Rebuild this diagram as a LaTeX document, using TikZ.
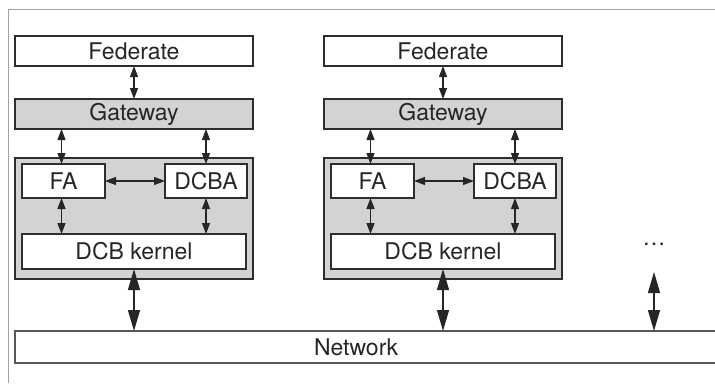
\documentclass[tikz,border=0pt]{standalone}
\usepackage{fontspec}
\setmainfont{TeX Gyre Heros}
\usetikzlibrary{arrows.meta,calc}
\definecolor{edge}{HTML}{2E2E2E}
\definecolor{panel}{HTML}{D2D3D5}
\definecolor{framegray}{HTML}{A3A3A3}
\tikzset{
  labelfont/.style={font=\fontsize{23}{27}\selectfont, text=black!85},
  box/.style={draw=edge, line width=1.4pt, fill=white, anchor=north west,
    inner sep=0pt, outer sep=0pt, labelfont},
  graybox/.style={box, fill=panel},
  link/.style={draw=black!85, line width=1.1pt,
    {Triangle[length=11pt,width=8pt]}-{Triangle[length=11pt,width=8pt]}},
  biglink/.style={draw=black!85, line width=1.3pt,
    {Triangle[length=21pt,width=12pt]}-{Triangle[length=21pt,width=12pt]}},
}
\begin{document}
\begin{tikzpicture}[x=1pt,y=-1pt]
  \useasboundingbox (0,0) rectangle (715,383);
  % outer frame (top and left edges only)
  \draw[framegray, line width=1pt] (8.5,383) -- (8.5,9.5) -- (715,9.5);

  % network bus, open towards the right
  \node[anchor=north west, minimum width=700pt, minimum height=32pt,
        inner sep=0pt, outer sep=0pt] (net) at (15,331) {};
  \draw[edge!80, line width=1.6pt] (net.north east) -- (net.north west)
        -- (net.south west) -- (net.south east);
  \node[labelfont] (netlabel) at (356,347) {Network};

  \foreach \i/\dx in {1/0,2/309}{
    \node[box, minimum width=238pt, minimum height=30pt] (fed\i) at (15+\dx,36) {Federate};
    \node[graybox, minimum width=238pt, minimum height=30pt] (gw\i) at (15+\dx,99) {Gateway};
    \node[graybox, minimum width=238pt, minimum height=121pt] (dcb\i) at (15+\dx,158) {};
    \node[box, minimum width=83pt, minimum height=34pt] (fa\i) at (22+\dx,164) {FA};
    \node[box, minimum width=82pt, minimum height=34pt] (dcba\i) at (165+\dx,164) {DCBA};
    \node[box, minimum width=224pt, minimum height=35pt] (ker\i) at (22+\dx,234) {DCB kernel};

    \draw[link] (fed\i.south) -- (fed\i.south |- gw\i.north);
    \draw[link] ([xshift=-2pt]fa\i.north |- gw\i.south) -- ([xshift=-2pt]fa\i.north);
    \draw[link] (dcba\i.north |- gw\i.south) -- (dcba\i.north);
    \draw[link] (fa\i.east) -- (dcba\i.west);
    \draw[link] ([xshift=-2pt]fa\i.south) -- ([xshift=-2pt]fa\i.south |- ker\i.north);
    \draw[link] (dcba\i.south) -- (dcba\i.south |- ker\i.north);
    \draw[biglink] (ker\i.south) -- (ker\i.south |- net.north);
  }

  % further nodes on the bus
  \node[labelfont] (more) at (654,244) {\dots};
  \coordinate (moreend) at (654,272);
  \draw[biglink] (moreend) -- (moreend |- net.north);
\end{tikzpicture}
\end{document}
